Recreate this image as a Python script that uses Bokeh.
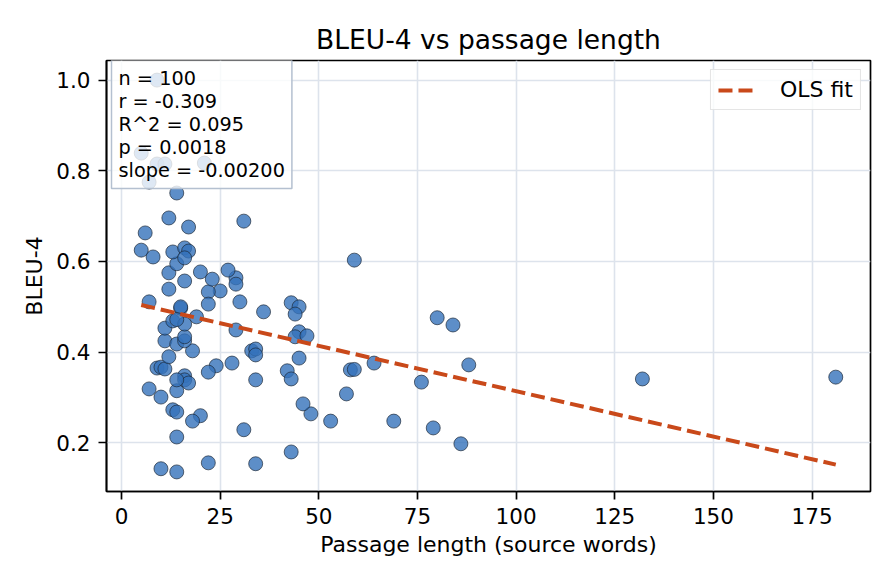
from bokeh.plotting import figure
from bokeh.models import Range1d, Label, FixedTicker, PrintfTickFormatter
from bokeh.embed import file_html
from bokeh.resources import INLINE

# ---- data ----
passage_len = [181, 132, 88, 80, 84, 76, 79, 86, 69, 64,
               58, 59, 57, 59, 53, 48, 46, 45, 45, 44,
               47, 43, 45, 44, 42, 43, 43, 36, 30, 31,
               29, 29, 27, 29, 25, 22, 23, 20, 22, 19,
               33, 34, 34, 34, 34, 31, 28, 24, 22, 20,
               18, 22, 14, 10, 14, 13, 14, 10, 7, 14,
               16, 16, 17, 14, 9, 10, 11, 12, 18, 11,
               14, 16, 16, 11, 13, 16, 15, 15, 7, 12,
               16, 12, 14, 13, 16, 17, 16, 8, 5, 6,
               12, 17, 14, 7, 5, 9, 11, 21, 9, 14]
bleu4 = [0.345, 0.341, 0.372, 0.476, 0.460, 0.334, 0.233, 0.198, 0.248, 0.376,
         0.361, 0.362, 0.308, 0.603, 0.248, 0.264, 0.286, 0.387, 0.445, 0.434,
         0.436, 0.509, 0.500, 0.484, 0.359, 0.341, 0.180, 0.489, 0.511, 0.689,
         0.564, 0.550, 0.581, 0.449, 0.535, 0.533, 0.561, 0.577, 0.506, 0.478,
         0.403, 0.407, 0.394, 0.339, 0.154, 0.229, 0.376, 0.370, 0.356, 0.260,
         0.248, 0.156, 0.136, 0.143, 0.213, 0.273, 0.268, 0.301, 0.319, 0.315,
         0.348, 0.339, 0.332, 0.339, 0.365, 0.367, 0.363, 0.390, 0.403, 0.425,
         0.418, 0.425, 0.434, 0.453, 0.469, 0.462, 0.497, 0.500, 0.511, 0.539,
         0.557, 0.575, 0.595, 0.621, 0.630, 0.623, 0.608, 0.610, 0.625, 0.663,
         0.696, 0.676, 0.751, 0.775, 0.839, 0.815, 0.815, 0.817, 1.000, 0.472]

fit_slope = -0.00200
fit_intercept = 0.514

stats_lines = ["n = 100", "r = -0.309", "R^2 = 0.095", "p = 0.0018", "slope = -0.00200"]

x_ticks = [0, 25, 50, 75, 100, 125, 150, 175]
y_ticks = [0.2, 0.4, 0.6, 0.8, 1.0]

title_text = "BLEU-4 vs passage length"
x_label = "Passage length (source words)"
y_label = "BLEU-4"
legend_text = "OLS fit"

FONT = "DejaVu Sans"

# ranges with 5% margins (matplotlib style)
xmin, xmax = min(passage_len), max(passage_len)
ymin, ymax = min(bleu4), max(bleu4)
xpad = 0.05 * (xmax - xmin)
ypad = 0.05 * (ymax - ymin)

p = figure(width=896, height=584, output_backend="svg", toolbar_location=None,
           x_range=Range1d(xmin - xpad, xmax + xpad),
           y_range=Range1d(ymin - ypad, ymax + ypad),
           min_border_left=106, min_border_right=26,
           min_border_top=60, min_border_bottom=93,
           title=title_text)

p.background_fill_color = "white"
p.border_fill_color = "white"
p.outline_line_color = "black"
p.outline_line_width = 1.7

p.title.align = "center"
p.title.text_font = FONT
p.title.text_font_size = "26.5px"
p.title.text_font_style = "normal"
p.title.text_color = "black"
p.title.standoff = 11

for ax in (p.xaxis[0], p.yaxis[0]):
    ax.axis_line_color = "black"
    ax.axis_line_width = 1.7
    ax.major_tick_line_color = "black"
    ax.major_tick_line_width = 1.7
    ax.major_tick_out = 8
    ax.major_tick_in = 0
    ax.minor_tick_line_color = None
    ax.major_label_text_font = FONT
    ax.major_label_text_font_size = "21.5px"
    ax.major_label_text_color = "black"
    ax.axis_label_text_font = FONT
    ax.axis_label_text_font_size = "22px"
    ax.axis_label_text_font_style = "normal"
    ax.axis_label_text_color = "black"
    ax.major_label_standoff = 8
    ax.axis_label_standoff = 6

p.xaxis[0].ticker = FixedTicker(ticks=x_ticks)
p.yaxis[0].ticker = FixedTicker(ticks=y_ticks)
p.yaxis[0].formatter = PrintfTickFormatter(format="%.1f")
p.xaxis[0].axis_label = x_label
p.yaxis[0].axis_label = y_label
p.xaxis[0].axis_label_standoff = 5
p.yaxis[0].axis_label_standoff = 6

p.xgrid.grid_line_color = "#dde3ec"
p.ygrid.grid_line_color = "#dde3ec"
p.xgrid.grid_line_width = 1.6
p.ygrid.grid_line_width = 1.6
p.xgrid.ticker = FixedTicker(ticks=x_ticks)
p.ygrid.ticker = FixedTicker(ticks=y_ticks)

p.scatter(passage_len, bleu4, size=14, marker="circle",
          fill_color="#3572BA", fill_alpha=0.8,
          line_color="#1a2636", line_width=0.8, line_alpha=0.85)

fit_x = [xmin, xmax]
fit_y = [fit_intercept + fit_slope * v for v in fit_x]
p.line(fit_x, fit_y, line_color="#c9491a", line_width=4,
       line_dash="14 6", legend_label=legend_text)

leg = p.legend[0]
leg.location = "top_right"
leg.margin = 9
leg.padding = 7
leg.glyph_width = 40
leg.glyph_height = 22
leg.label_standoff = 22
leg.label_height = 22
leg.label_text_font = FONT
leg.label_text_font_size = "22px"
leg.label_text_color = "black"
leg.border_line_color = "#cccccc"
leg.border_line_width = 1.5
leg.background_fill_color = "white"
leg.background_fill_alpha = 0.8

stats = Label(x=xmin - xpad, y=ymax + ypad, x_units="data", y_units="data",
              x_offset=5, y_offset=1, anchor="top_left",
              text="\n".join(stats_lines),
              text_font=FONT, text_font_size="19.3px", text_color="black",
              text_line_height=1.0,
              background_fill_color="white", background_fill_alpha=0.8,
              border_line_color="#b4c0d0", border_line_width=1.5,
              padding=7)
p.add_layout(stats)

open("out.html", "w").write(file_html(p, INLINE))
